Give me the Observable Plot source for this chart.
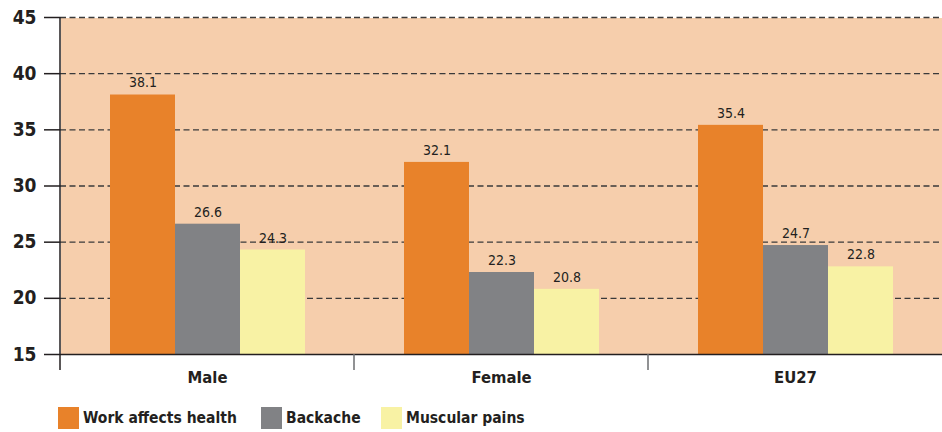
<!DOCTYPE html>
<html>
<head>
<meta charset="utf-8">
<script src="https://cdn.jsdelivr.net/npm/d3@7"></script>
<script src="https://cdn.jsdelivr.net/npm/@observablehq/plot@0.6"></script>
<style>
  body { margin: 0; background: #fff; font-family: "Liberation Sans Narrow", "DejaVu Sans Condensed", sans-serif; }
  #legend { display: flex; align-items: center; margin-left: 58px; margin-top: 12px; font-weight: bold; font-size: 15.5px; color: #231f20; }
  #legend .item { display: flex; align-items: center; }
  #legend .sw { width: 21px; height: 22px; margin-right: 4px; flex: none; }
</style>
</head>
<body>
<div id="chart"></div>
<div id="legend"></div>
<script>
const categories = ["Male", "Female", "EU27"];
const series = ["Work affects health", "Backache", "Muscular pains"];
const colors = ["#E8822A", "#818285", "#F8F2A4"];
const workAffectsHealth = [38.1, 32.1, 35.4];
const backache = [26.6, 22.3, 24.7];
const muscularPains = [24.3, 20.8, 22.8];
const yTicks = [15, 20, 25, 30, 35, 40, 45];

const valuesBySeries = [workAffectsHealth, backache, muscularPains];
const data = [];
categories.forEach((c, i) => {
  series.forEach((s, j) => data.push({category: c, series: s, value: valuesBySeries[j][i]}));
});

const font = '"Liberation Sans Narrow", "DejaVu Sans Condensed", sans-serif';

const chart = Plot.plot({
  width: 942,
  height: 395,
  marginLeft: 59,
  marginRight: 0,
  marginTop: 17,
  marginBottom: 41,
  style: {fontFamily: font, color: "#231f20", background: "#fff", overflow: "visible"},
  fx: {domain: categories, paddingInner: 0, paddingOuter: 0},
  x: {domain: series, paddingInner: 0, paddingOuter: 0.745, axis: null},
  y: {domain: [15, 45]},
  color: {domain: series, range: colors},
  marks: [
    Plot.frame({fill: "#F6CEAC", stroke: null, insetRight: -1.5, shapeRendering: "crispEdges"}),
    Plot.gridY(yTicks.slice(1), {stroke: "#3a3a3a", strokeOpacity: 1, strokeWidth: 1.3, strokeDasharray: "6,3.5"}),
    Plot.barY(data, {fx: "category", x: "series", y1: 15, y2: "value", fill: "series"}),
    Plot.text(data, {fx: "category", x: "series", y: "value", text: d => d.value.toFixed(1), dy: -12, fontSize: 14, fill: "#231f20"}),
    Plot.ruleY([15], {stroke: "#231f20", strokeWidth: 1.5}),
    Plot.axisY({ticks: yTicks, tickSize: 16, tickPadding: 8, fontSize: 19, fontWeight: "bold", label: null, stroke: "#231f20", strokeWidth: 1.5}),
    Plot.axisFx({anchor: "bottom", tickSize: 0, tickPadding: 17, fontSize: 16.5, fontWeight: "bold", label: null})
  ]
});

// axis frame lines drawn from Plot's own scales
const fx = chart.scale("fx");
const y = chart.scale("y");
const svg = d3.select(chart);
const x0 = fx.apply(categories[0]);
const yTop = y.apply(45), yBot = y.apply(15);
svg.append("line").attr("x1", x0).attr("x2", x0).attr("y1", yTop).attr("y2", yBot + 16)
  .attr("stroke", "#231f20").attr("stroke-width", 1.5);
categories.slice(1).forEach(c => {
  const xx = fx.apply(c);
  svg.append("line").attr("x1", xx).attr("x2", xx).attr("y1", yBot).attr("y2", yBot + 16)
    .attr("stroke", "#6d6e71").attr("stroke-width", 1.5);
});

document.getElementById("chart").append(chart);

const legend = document.getElementById("legend");
const itemWidths = ["203px", "120px", "auto"];
series.forEach((s, i) => {
  const item = document.createElement("div");
  item.className = "item";
  item.style.width = itemWidths[i];
  const sw = document.createElement("div");
  sw.className = "sw";
  sw.style.background = colors[i];
  const label = document.createElement("span");
  label.textContent = s;
  item.append(sw, label);
  legend.append(item);
});
</script>
</body>
</html>
